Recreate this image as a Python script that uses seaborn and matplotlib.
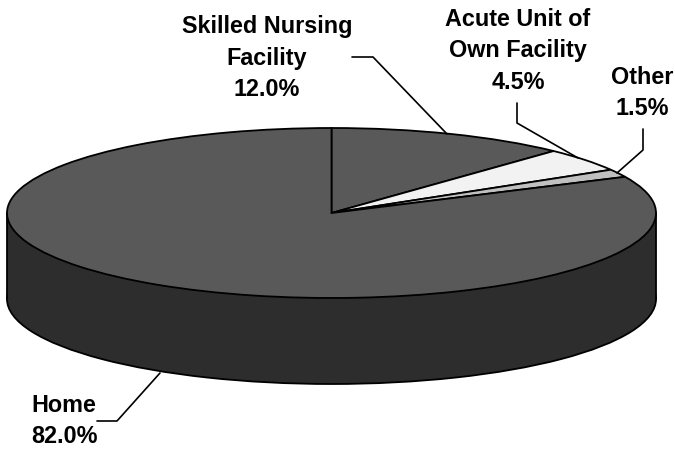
import matplotlib
matplotlib.use('Agg')
import matplotlib.pyplot as plt
import seaborn as sns

sns.set_theme(style='white')
plt.rcParams['font.family'] = ['Liberation Sans', 'DejaVu Sans']

# data
categories = ['Skilled Nursing\nFacility', 'Acute Unit of\nOwn Facility', 'Other', 'Home']
shares = [12.0, 4.5, 1.5, 82.0]
slice_colors = ['#595959', '#f2f2f2', '#c0c0c0', '#595959']
side_color = '#2d2d2d'

# pie geometry in pixels of the 675x450 picture
cx, cy = 331.5, 213
rx, ry = 324.5, 85
depth = 86


def px(x, y):
    # picture pixels -> data units of the squashed axes
    return (x - cx) / rx, (cy - y) / ry


fig = plt.figure(figsize=(6.75, 4.5), dpi=100)
ax = fig.add_axes([0, 0, 1, 1])
edge = dict(edgecolor='black', linewidth=1.3)

# side of the disc
palette = sns.color_palette([side_color])
ax.pie([100], colors=palette, center=(0, -depth / ry), startangle=90,
       wedgeprops=edge, frame=True)
ax.fill_between([-1, 1], -depth / ry, 0, color=side_color, linewidth=0, zorder=1.5)
for x in (-1, 1):
    ax.plot([x, x], [0, -depth / ry], color='black', lw=1.3, zorder=1.6)

# top of the disc
wedges, _ = ax.pie(shares, colors=sns.color_palette(slice_colors), startangle=90,
                   counterclock=False, wedgeprops=edge, frame=True)
for w in wedges:
    w.set_zorder(2)

ax.set_xlim(-cx / rx, (675 - cx) / rx)
ax.set_ylim(-(450 - cy) / ry, cy / ry)
ax.set_aspect('auto')
ax.axis('off')

# labels
text_style = dict(ha='center', va='center', fontsize=16.8, fontweight='bold',
                  color='black', linespacing=1.46)
label_pos = [(267, 58), (518, 51), (642, 93), (64, 421)]
for name, share, (lx, ly) in zip(categories, shares, label_pos):
    ax.text(*px(lx, ly), f'{name}\n{share:.1f}%', **text_style)

# leader lines
leaders = [
    [(352, 57), (373, 57), (447, 134)],
    [(517, 103), (517, 123), (578, 158)],
    [(643, 129), (643, 150), (617, 173)],
    [(97, 421), (117, 421), (160, 373)],
]
for pts in leaders:
    xs, ys = zip(*[px(*p) for p in pts])
    ax.plot(xs, ys, color='black', lw=1.2, zorder=3)

fig.savefig('out.png', dpi=100, facecolor='white')
